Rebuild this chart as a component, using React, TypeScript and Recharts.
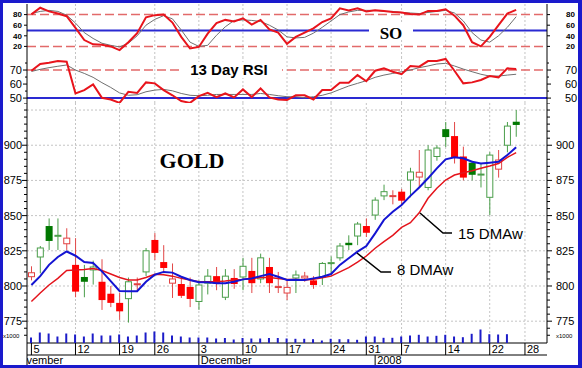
import React from 'react';
import { ComposedChart, Bar, Line, XAxis, YAxis, ReferenceLine, CartesianGrid } from 'recharts';

const SANS = '"Liberation Sans", Arial, sans-serif';
const SERIF = '"Liberation Serif", "Times New Roman", serif';

// trading days, Nov 5 2007 .. Jan 30 2008 (last three have no data yet)
const days = [
  '11/05', '11/06', '11/07', '11/08', '11/09', '11/12', '11/13', '11/14', '11/15', '11/16',
  '11/19', '11/20', '11/21', '11/23', '11/26', '11/27', '11/28', '11/29', '11/30',
  '12/03', '12/04', '12/05', '12/06', '12/07', '12/10', '12/11', '12/12', '12/13', '12/14',
  '12/17', '12/18', '12/19', '12/20', '12/21', '12/24', '12/26', '12/27', '12/28', '12/31',
  '01/02', '01/03', '01/04', '01/07', '01/08', '01/09', '01/10', '01/11', '01/14', '01/15',
  '01/16', '01/17', '01/18', '01/22', '01/23', '01/24', '01/25', '01/28', '01/29', '01/30',
];
const weekTicks = ['11/05', '11/12', '11/19', '11/26', '12/03', '12/10', '12/17', '12/24', '12/31', '01/07', '01/14', '01/22', '01/28'];
const monthTicks = ['11/05', '12/03', '01/02'];
const monthNames = ['November', 'December', '2008'];

const priorClose = 812;
const open = [806.6, 820.6, 842.6, 835.5, 830, 815, 806.4, 811.4, 803, 794.5, 788, 791, 801.3, 810, 832.7, 817, 802, 801.4, 799.3, 789, 802, 807, 792, 805.7, 806.4, 810.7, 805, 813.5, 799.3, 795, 805.7, 805.7, 804, 806.4, 816.2, 820, 830.7, 835.5, 842.6, 850.4, 864, 863.8, 867, 875.3, 877.4, 870, 892, 911.4, 906.5, 892, 887.6, 879.2, 863, 883, 900, 916.7];
const high = [814, 828.4, 848, 848, 841, 834, 815, 818, 819, 800, 795, 806, 806, 827, 837.6, 829, 816, 806, 806, 804, 812, 813.5, 812, 812, 820, 820, 823, 820, 810, 804, 811, 810, 807, 817, 821, 830.5, 836, 845.5, 848, 863, 872, 868, 869, 884, 896.6, 900, 900, 916.5, 916.5, 899, 889, 887, 895, 896.6, 916.5, 925];
const low = [804, 809, 825.6, 825.6, 825.6, 792, 792, 801, 783, 785, 776, 774, 796, 807, 818.5, 809, 791.5, 791.5, 785, 783, 794, 797, 790, 798, 797, 795, 802, 795, 795, 790, 795, 803, 798, 800.7, 809, 818, 825.6, 829, 834.8, 847, 861, 858, 858, 863, 870, 868, 889, 898.7, 887, 875, 875, 870, 850.4, 877, 895, 906];
const close = [809.4, 827, 832, 836, 834, 796, 803, 813.5, 790, 788, 782, 803, 801.6, 825, 823.5, 812.8, 805, 793, 790.8, 800.7, 807, 802, 807, 801.4, 814, 802, 820, 802, 799.6, 799, 807.8, 807, 800.7, 816, 816.6, 828.4, 829, 844, 837.8, 861, 867, 864.2, 860.6, 881, 880.8, 896.6, 898, 905.8, 891, 877, 879, 879.5, 893, 889.5, 913.6, 914.4];

const ma8 = [800.7, 807, 815, 820.6, 824.5, 821.5, 817, 816.3, 810.4, 803.5, 796.5, 796.3, 796.3, 803, 808, 810, 809.5, 806.6, 804.3, 802.6, 802.6, 802, 802, 803, 804.7, 805.4, 807, 808.5, 806.6, 804.3, 804.5, 804.3, 805.4, 806.6, 808.5, 815, 819.7, 824.4, 828.4, 837.4, 847, 852.8, 857.5, 864, 870, 876.5, 883.6, 890, 891.4, 890.7, 888.3, 887, 887.6, 888.3, 893, 898.5];
const ma15 = [789, 795, 800.7, 805.4, 811, 811.4, 811.8, 812.5, 811, 808.5, 806, 804.3, 804.3, 806, 808.3, 808, 807, 805.4, 804.3, 803, 803, 803, 803.5, 804.3, 804.7, 805.4, 806, 806, 805.4, 804.7, 804.7, 804.3, 804.7, 805.9, 807, 810, 813, 817, 821.3, 826.8, 831.5, 836, 841.6, 845, 852, 862.3, 869.4, 875.3, 878.8, 880.5, 881.9, 883.6, 885.2, 887, 891.4, 894.7];

const soK = [80.5, 93, 86, 82, 77, 55, 32, 24, 23, 20, 13, 28, 45, 75, 79, 80, 65, 38, 16, 19, 44, 64, 70, 67, 73, 61, 70, 52, 46, 25, 38, 46, 54, 66, 73, 92, 88, 92, 86, 88, 87, 85, 84, 81, 80, 87, 87, 90, 78, 60, 28, 20, 38, 60, 82, 89];
const soD = [82, 86, 88, 86, 79, 64, 46, 35, 26, 22, 19, 26, 40, 60, 71, 78, 72, 51, 28, 20, 22, 41, 57, 69, 70, 69, 67, 60, 51, 38, 36, 37, 45, 56, 68, 80, 85, 88, 88, 88, 86, 86, 84, 83, 82, 84, 86, 88, 83, 68, 46, 32, 28, 40, 56, 76];

const rsi = [69.5, 74.3, 75.2, 76.4, 75.9, 53.3, 55.7, 59.8, 50.2, 49, 46.6, 54.5, 53.7, 61.2, 60.5, 55.7, 52, 47.9, 46.6, 51.4, 53.7, 50.7, 53.3, 50.5, 56.2, 50.7, 56.9, 50.5, 49, 48.6, 52, 52, 49, 55.7, 55.7, 61, 61, 66.4, 62, 69.5, 71.2, 68.8, 67, 72.9, 72.4, 76.4, 76.4, 77.9, 69.5, 60.5, 61.2, 62.9, 65.7, 64.8, 71.2, 70.7];
const rsiAvg = [69, 70.5, 71.7, 72.7, 73.6, 70, 67.6, 64.8, 61, 57.6, 53.7, 52, 52.4, 54.5, 55.7, 56.2, 55.2, 53.3, 52, 51.7, 52, 52.6, 52.6, 52.6, 52.6, 52.6, 53.3, 52.6, 51.7, 51, 51, 50.2, 51, 52, 53.7, 56.2, 58.6, 60.5, 62.4, 64.8, 66.4, 67.6, 68.8, 70, 71.7, 72.9, 74.3, 74.8, 72.9, 70.7, 68.8, 67, 65.7, 65.7, 66.4, 67];

const volume = [5500, 10500, 9500, 6500, 9500, 8500, 6500, 9500, 7500, 7500, 8500, 6500, 7500, 10500, 11500, 10500, 7500, 6500, 5500, 5500, 5500, 4500, 5000, 3500, 5000, 4500, 4500, 5000, 5000, 4500, 4200, 4200, 3800, 2500, 4200, 3800, 3800, 3200, 6500, 6500, 5200, 5200, 6500, 7500, 8200, 6500, 7200, 8200, 6500, 5800, 9200, 13500, 8800, 8500, 8800];

const priceLabels = [775, 800, 825, 850, 875, 900];
const priceGrid = [775, 800, 825, 850, 875, 900, 925];
const soLabels = [20, 40, 60, 80];
const rsiLabels = [50, 60, 70];

const priceTicks: number[] = [];
for (let v = 765; v <= 930; v += 5) priceTicks.push(v);
const rsiTicks = [50, 55, 60, 65, 70, 75];

const rows = days.map((day, i) => ({
  day,
  open: open[i],
  high: high[i],
  low: low[i],
  close: close[i],
  prev: i === 0 ? priorClose : close[i - 1],
  ma8: ma8[i],
  ma15: ma15[i],
  soK: soK[i],
  soD: soD[i],
  rsi: rsi[i],
  rsiAvg: rsiAvg[i],
  vol: volume[i],
}));

const W = 582;
const LEFT = 27;
const RIGHT = 35;
const noMargin = { top: 0, right: 0, bottom: 0, left: 0 };
const gridStroke = '#c4c4c4';
const gridWeeks = weekTicks.slice(1);

const Candle = (props: any) => {
  const { x, y, width, height, payload } = props;
  if (!payload || payload.open == null) return null;
  const { open: o, close: c, high: h, low: l, prev } = payload;
  const top = Math.min(y, y + height);
  const span = Math.abs(height);
  const k = h === l ? 0 : span / (h - l);
  const bTop = top + (h - Math.max(o, c)) * k;
  const bH = Math.max(1, (Math.max(o, c) - Math.min(o, c)) * k);
  const up = c > prev;
  const hollow = c >= o;
  const cx = x + width / 2;
  const edge = up ? (hollow ? '#4a9e4a' : '#007800') : hollow ? '#e24040' : '#ff0000';
  const wick = up ? '#4a9e4a' : '#e24848';
  return (
    <g>
      <line x1={cx} x2={cx} y1={top} y2={top + span} stroke={wick} strokeWidth={1} />
      {hollow ? (
        <rect x={x + 0.5} y={bTop} width={width - 1} height={bH} fill="#fff" stroke={edge} strokeWidth={1} />
      ) : (
        <rect x={x} y={bTop} width={width} height={bH} fill={edge} />
      )}
    </g>
  );
};

const makeTick = (side: 'l' | 'r', labels: number[], size: number, bold: boolean, majorLen: number, minorLen: number, rOffset: number) => (p: any) => {
  const v = p.payload.value;
  const isLabel = labels.includes(v);
  const len = isLabel ? majorLen : minorLen;
  const x2 = side === 'l' ? p.x - len : p.x + len;
  return (
    <g>
      <line x1={p.x} x2={x2} y1={p.y} y2={p.y} stroke="#000" strokeWidth={1} />
      {isLabel && (
        <text
          x={side === 'l' ? p.x - 5 : p.x + rOffset}
          y={p.y + size * 0.36}
          textAnchor={side === 'l' ? 'end' : 'start'}
          fontSize={size}
          fontWeight={bold ? 'bold' : 'normal'}
          fontFamily={SANS}
          fill="#000"
        >
          {v}
        </text>
      )}
    </g>
  );
};

const DayTick = (p: any) => {
  const { x, y, payload } = p;
  return (
    <g>
      <line x1={x} x2={x} y1={y} y2={y + 12} stroke="#000" strokeWidth={1} />
      <text x={x + 2} y={y + 9.5} fontSize={11} fontFamily={SANS} fill="#000">
        {Number(String(payload.value).slice(3))}
      </text>
    </g>
  );
};

const MonthTick = (p: any) => {
  const { x, y, payload } = p;
  const k = monthTicks.indexOf(payload.value);
  if (k < 0) return null;
  if (k === 0) {
    return (
      <g>
        <defs>
          <clipPath id="month-clip">
            <rect x={LEFT} y={y - 2} width={120} height={16} />
          </clipPath>
        </defs>
        <text x={x - 19} y={y + 8.5} fontSize={11} fontFamily={SANS} fill="#000" clipPath="url(#month-clip)">
          {monthNames[k]}
        </text>
      </g>
    );
  }
  return (
    <g>
      <line x1={x} x2={x} y1={y} y2={y + 14} stroke="#000" strokeWidth={1} />
      <text x={x + 2} y={y + 8.5} fontSize={11} fontFamily={SANS} fill="#000">
        {monthNames[k]}
      </text>
    </g>
  );
};

function SoPanel() {
  return (
    <ComposedChart width={W} height={53} data={rows} margin={noMargin}>
      <XAxis dataKey="day" hide scale="band" />
      <YAxis domain={[0, 100]} allowDataOverflow ticks={soLabels} interval={0} width={LEFT} tickSize={0} tickMargin={0} tickLine={false} axisLine={{ stroke: '#000' }} tick={makeTick('l', soLabels, 8, true, 3, 2, 0)} />
      <YAxis yAxisId="r" orientation="right" domain={[0, 100]} allowDataOverflow ticks={soLabels} interval={0} width={RIGHT} tickSize={0} tickMargin={0} tickLine={false} axisLine={{ stroke: '#000' }} tick={makeTick('r', soLabels, 8, true, 3, 2, 19)} />
      <CartesianGrid horizontal={false} verticalValues={gridWeeks} stroke={gridStroke} strokeDasharray="2 2" />
      <ReferenceLine y={80} stroke="#e26a6a" strokeWidth={1.5} strokeDasharray="9 4" />
      <ReferenceLine y={20} stroke="#e26a6a" strokeWidth={1.5} strokeDasharray="9 4" />
      <ReferenceLine y={50} stroke="#2a2ad2" strokeWidth={2} />
      <Bar dataKey="none" fill="none" isAnimationActive={false} />
      <Line dataKey="soD" stroke="#707070" strokeWidth={1} dot={false} isAnimationActive={false} />
      <Line dataKey="soK" stroke="#e8141c" strokeWidth={2} dot={false} isAnimationActive={false} />
    </ComposedChart>
  );
}

function RsiPanel() {
  return (
    <ComposedChart width={W} height={46} data={rows} margin={noMargin}>
      <XAxis dataKey="day" hide scale="band" />
      <YAxis domain={[46.5, 79.3]} allowDataOverflow ticks={rsiTicks} interval={0} width={LEFT} tickSize={0} tickMargin={0} tickLine={false} axisLine={{ stroke: '#000' }} tick={makeTick('l', rsiLabels, 11, false, 4, 2, 0)} />
      <YAxis yAxisId="r" orientation="right" domain={[46.5, 79.3]} allowDataOverflow ticks={rsiTicks} interval={0} width={RIGHT} tickSize={0} tickMargin={0} tickLine={false} axisLine={{ stroke: '#000' }} tick={makeTick('r', rsiLabels, 11, false, 4, 2, 18)} />
      <CartesianGrid horizontal={false} verticalValues={gridWeeks} stroke={gridStroke} strokeDasharray="2 2" />
      <ReferenceLine y={70} stroke="#e26a6a" strokeWidth={1.5} strokeDasharray="9 4" />
      <ReferenceLine y={50} stroke="#2a2ad2" strokeWidth={2} />
      <Bar dataKey="none" fill="none" isAnimationActive={false} />
      <Line dataKey="rsiAvg" stroke="#707070" strokeWidth={1} dot={false} isAnimationActive={false} />
      <Line dataKey="rsi" stroke="#e8141c" strokeWidth={2} dot={false} isAnimationActive={false} />
    </ComposedChart>
  );
}

function PricePanel() {
  return (
    <ComposedChart width={W} height={264} data={rows} margin={noMargin} barSize={7}>
      <XAxis dataKey="day" scale="band" ticks={weekTicks} interval={0} height={12} tickSize={0} tickMargin={0} tickLine={false} axisLine={{ stroke: '#000' }} tick={DayTick} />
      <XAxis xAxisId="m" dataKey="day" scale="band" ticks={monthTicks} interval={0} height={12} tickSize={0} tickMargin={0} tickLine={false} axisLine={{ stroke: '#000' }} tick={MonthTick} />
      <YAxis domain={[759.5, 930]} allowDataOverflow ticks={priceTicks} interval={0} width={LEFT} tickSize={0} tickMargin={0} tickLine={false} axisLine={{ stroke: '#000' }} tick={makeTick('l', priceLabels, 11, false, 5, 3, 0)} />
      <YAxis yAxisId="r" orientation="right" domain={[759.5, 930]} allowDataOverflow ticks={priceTicks} interval={0} width={RIGHT} tickSize={0} tickMargin={0} tickLine={false} axisLine={{ stroke: '#000' }} tick={makeTick('r', priceLabels, 11, false, 5, 3, 9)} />
      <CartesianGrid verticalValues={gridWeeks} horizontalValues={priceGrid} stroke={gridStroke} strokeDasharray="2 2" />
      <Bar dataKey={(d: any) => (d.open == null ? null : [d.low, d.high])} shape={Candle} isAnimationActive={false} />
      <Line dataKey="ma15" stroke="#e4141c" strokeWidth={1.5} dot={false} isAnimationActive={false} />
      <Line dataKey="ma8" stroke="#1414d2" strokeWidth={2} dot={false} isAnimationActive={false} />
    </ComposedChart>
  );
}

function VolumePanel() {
  return (
    <ComposedChart width={W} height={20} data={rows} margin={{ top: 0, right: RIGHT, bottom: 0, left: LEFT }} barSize={2}>
      <XAxis dataKey="day" hide scale="band" />
      <YAxis hide domain={[0, 20000]} allowDataOverflow />
      <Bar dataKey="vol" fill="#1c1cc8" isAnimationActive={false} />
    </ComposedChart>
  );
}

export default function App() {
  return (
    <div style={{ position: 'absolute', left: 0, top: 0, width: W, height: 368, background: '#fff', overflow: 'hidden', fontFamily: SANS }}>
      <div style={{ position: 'absolute', left: 0, top: 4 }}>
        <SoPanel />
      </div>
      <div style={{ position: 'absolute', left: 0, top: 57 }}>
        <RsiPanel />
      </div>
      <div style={{ position: 'absolute', left: 0, top: 103 }}>
        <PricePanel />
      </div>
      <div style={{ position: 'absolute', left: 0, top: 323 }}>
        <VolumePanel />
      </div>
      <svg width={W} height={368} style={{ position: 'absolute', left: 0, top: 0, pointerEvents: 'none' }}>
        <rect x={369} y={23} width={44} height={17} fill="#fff" />
        <text x={391} y={39} textAnchor="middle" fontFamily={SERIF} fontWeight="bold" fontSize={17} fill="#000">SO</text>
        <rect x={181} y={62} width={101} height={16} fill="#fff" />
        <text x={229} y={75} textAnchor="middle" fontFamily={SANS} fontWeight="bold" fontSize={15} fill="#000">13 Day RSI</text>
        <text x={192} y={168} textAnchor="middle" fontFamily={SERIF} fontWeight="bold" fontSize={22} fill="#000">GOLD</text>
        <polyline points="420,213 443,233 452,233" fill="none" stroke="#000" strokeWidth={1.5} />
        <text x={458} y={239} fontFamily={SANS} fontSize={15} fill="#000">15 DMAw</text>
        <polyline points="357,253 381,272 391,272" fill="none" stroke="#000" strokeWidth={1.5} />
        <text x={397} y={275} fontFamily={SANS} fontSize={15} fill="#000">8 DMAw</text>
        <text x={3} y={338} fontFamily={SANS} fontSize={6} fill="#000">x1000</text>
        <text x={556} y={338} fontFamily={SANS} fontSize={6} fill="#000">x1000</text>
        <line x1={LEFT} x2={LEFT} y1={343} y2={368} stroke="#000" strokeWidth={1} />
      </svg>
      <div style={{ position: 'absolute', left: 0, top: 0, width: W, height: 368, boxSizing: 'border-box', borderStyle: 'solid', borderColor: '#1a1acc', borderWidth: '3px 4px 3px 3px', pointerEvents: 'none' }} />
    </div>
  );
}
